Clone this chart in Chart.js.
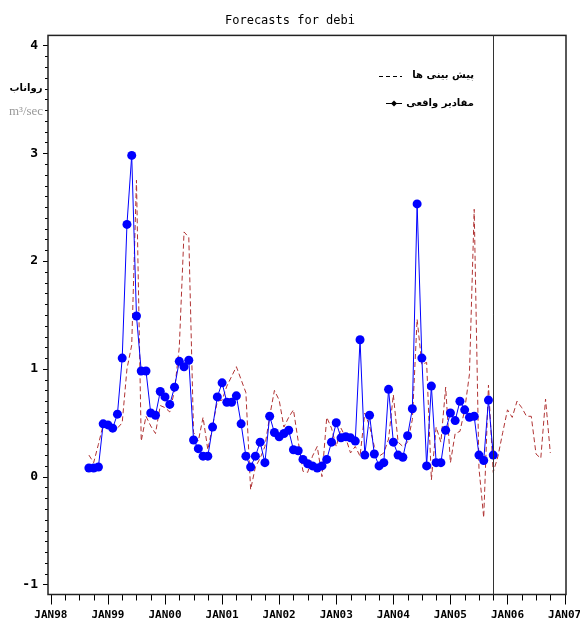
<!DOCTYPE html>
<html>
<head>
<meta charset="utf-8">
<title>Forecasts for debi</title>
<script src="https://cdn.jsdelivr.net/npm/chart.js@4.4.0/dist/chart.umd.min.js"></script>
<style>
  html, body { margin: 0; padding: 0; background: #fff; }
</style>
</head>
<body>
<canvas id="debi" width="580" height="630"></canvas>
<script>
// x values are months counted from JAN98 (0 = Jan 1998, 108 = Jan 2007)
const actualStart = 8;
const actualValues = [
  0.08, 0.08, 0.09, 0.49, 0.48, 0.45, 0.58, 1.10, 2.34, 2.98,
  1.49, 0.98, 0.98, 0.59, 0.57, 0.79, 0.74, 0.67, 0.83, 1.07,
  1.02, 1.08, 0.34, 0.26, 0.19, 0.19, 0.46, 0.74, 0.87, 0.69,
  0.69, 0.75, 0.49, 0.19, 0.09, 0.19, 0.32, 0.13, 0.56, 0.41,
  0.37, 0.40, 0.43, 0.25, 0.24, 0.16, 0.12, 0.10, 0.08, 0.10,
  0.16, 0.32, 0.50, 0.36, 0.37, 0.36, 0.33, 1.27, 0.20, 0.57,
  0.21, 0.10, 0.13, 0.81, 0.32, 0.20, 0.18, 0.38, 0.63, 2.53,
  1.10, 0.10, 0.84, 0.13, 0.13, 0.43, 0.59, 0.52, 0.70, 0.62,
  0.55, 0.56, 0.20, 0.15, 0.71, 0.20
];

const forecastStart = 8;
const forecastValues = [
  0.20, 0.13, 0.30, 0.48, 0.47, 0.44, 0.45, 0.50, 1.00, 1.22,
  2.75, 0.33, 0.56, 0.47, 0.40, 0.66, 0.64, 0.60, 0.80, 1.20,
  2.27, 2.22, 0.41, 0.33, 0.55, 0.25, 0.47, 0.70, 0.71, 0.84,
  0.93, 1.02, 0.90, 0.78, -0.12, 0.09, 0.17, 0.28, 0.56, 0.80,
  0.71, 0.46, 0.55, 0.62, 0.33, 0.05, 0.04, 0.19, 0.28, 0.00,
  0.55, 0.45, 0.28, 0.45, 0.36, 0.22, 0.28, 0.19, 0.59, 0.47,
  0.28, 0.19, 0.22, 0.35, 0.76, 0.32, 0.28, 0.32, 0.53, 1.46,
  1.04, 1.06, -0.03, 0.46, 0.32, 0.83, 0.13, 0.40, 0.42, 0.62,
  0.95, 2.48, 0.08, -0.38, 0.85, 0.04, 0.19, 0.41, 0.62, 0.55,
  0.70, 0.64, 0.56, 0.56, 0.21, 0.17, 0.72, 0.22
];

const monthNames = ['JAN'];
const forecastOrigin = 93;   // last observed month (Oct 2005)

const actualLabel = 'مقادیر واقعی';
const forecastLabel = 'پیش بینی ها';
const yTitle = 'رواناب';
const yUnit = 'm³/sec';

function toPoints(start, values) {
  return values.map((v, i) => ({ x: start + i, y: v }));
}

function monthLabel(value) {
  if (value % 12 !== 0) return '';
  const yr = (98 + value / 12) % 100;
  return monthNames[0] + String(yr).padStart(2, '0');
}

// frame, tick marks, forecast divider, legend and unit label
const decorations = {
  id: 'decorations',
  afterDraw(chart) {
    const { ctx, chartArea: a, scales: { x, y } } = chart;
    ctx.save();
    ctx.strokeStyle = '#000';

    // minor/major ticks on y (every 0.1)
    ctx.lineWidth = 1;
    ctx.beginPath();
    for (let k = -10; k <= 40; k++) {
      const py = Math.round(y.getPixelForValue(k / 10)) + 0.5;
      const len = k % 10 === 0 ? 5 : 3;
      ctx.moveTo(a.left - len, py);
      ctx.lineTo(a.left, py);
    }
    // ticks on x (quarterly, long ones at January)
    for (let m = 0; m <= 108; m += 3) {
      const px = Math.round(x.getPixelForValue(m)) + 0.5;
      const len = m % 12 === 0 ? 10 : 6;
      ctx.moveTo(px, a.bottom);
      ctx.lineTo(px, a.bottom + len);
    }
    ctx.stroke();

    // plot frame
    ctx.lineWidth = 1.5;
    ctx.strokeStyle = '#222';
    ctx.strokeRect(a.left, a.top, a.right - a.left, a.bottom - a.top);

    // divider at the start of the forecast period
    const fx = Math.round(x.getPixelForValue(forecastOrigin)) + 0.5;
    ctx.lineWidth = 1;
    ctx.strokeStyle = '#333';
    ctx.beginPath();
    ctx.moveTo(fx, a.top);
    ctx.lineTo(fx, a.bottom);
    ctx.stroke();

    // legend
    ctx.strokeStyle = '#000';
    ctx.fillStyle = '#000';
    ctx.lineWidth = 1;
    ctx.setLineDash([4, 3]);
    ctx.beginPath();
    ctx.moveTo(379, 76.5);
    ctx.lineTo(402, 76.5);
    ctx.stroke();
    ctx.setLineDash([]);
    ctx.beginPath();
    ctx.moveTo(386, 103.5);
    ctx.lineTo(402, 103.5);
    ctx.stroke();
    ctx.beginPath();
    ctx.moveTo(394, 100.5);
    ctx.lineTo(397, 103.5);
    ctx.lineTo(394, 106.5);
    ctx.lineTo(391, 103.5);
    ctx.closePath();
    ctx.fill();

    ctx.font = 'bold 10px "DejaVu Sans"';
    ctx.textAlign = 'right';
    ctx.textBaseline = 'middle';
    ctx.direction = 'rtl';
    ctx.fillText(forecastLabel, 474, 75);
    ctx.fillText(actualLabel, 474, 103);

    // axis title and unit
    ctx.textAlign = 'center';
    ctx.font = 'bold 10px "DejaVu Sans"';
    ctx.fillText(yTitle, 26, 88);
    ctx.direction = 'ltr';
    ctx.fillStyle = '#999';
    ctx.font = '13px "Liberation Serif"';
    ctx.fillText(yUnit, 26, 112);
    ctx.restore();
  }
};

const tickFont = { family: 'DejaVu Sans Mono', size: 11, weight: 'bold' };

new Chart(document.getElementById('debi'), {
  type: 'line',
  data: {
    datasets: [
      {
        label: actualLabel,
        data: toPoints(actualStart, actualValues),
        borderColor: '#0000ff',
        backgroundColor: '#0000ff',
        borderWidth: 1,
        pointRadius: 4.5,
        pointBorderWidth: 0,
        tension: 0
      },
      {
        label: forecastLabel,
        data: toPoints(forecastStart, forecastValues),
        borderColor: '#b03434',
        borderWidth: 1,
        borderDash: [5, 3],
        pointRadius: 0,
        tension: 0
      }
    ]
  },
  options: {
    responsive: false,
    animation: false,
    devicePixelRatio: 1,
    layout: { padding: 0 },
    plugins: {
      legend: { display: false },
      tooltip: { enabled: false },
      title: {
        display: true,
        text: 'Forecasts for debi',
        color: '#000',
        font: { family: 'DejaVu Sans Mono', size: 12, weight: 'normal' },
        padding: { top: 14, bottom: 7 }
      }
    },
    scales: {
      x: {
        type: 'linear',
        min: -0.6,
        max: 108.3,
        border: { display: false },
        grid: { display: false, drawTicks: false },
        ticks: {
          stepSize: 12,
          includeBounds: false,
          autoSkip: false,
          maxRotation: 0,
          padding: 14,
          color: '#000',
          font: tickFont,
          callback: monthLabel
        },
        afterFit(s) {
          s.height = 35.5;
          // fixed room on the right; the last year label may run past the edge
          s.paddingLeft = 0;
          s.paddingRight = 14;
        }
      },
      y: {
        min: -1.093,
        max: 4.093,
        border: { display: false },
        grid: { display: false, drawTicks: false },
        ticks: {
          stepSize: 1,
          includeBounds: false,
          padding: 10,
          color: '#000',
          font: { family: 'DejaVu Sans Mono', size: 13, weight: 'bold' }
        },
        afterFit(s) {
          s.width = 48;
          s.paddingTop = 0;
          s.paddingBottom = 0;
        }
      }
    }
  },
  plugins: [decorations]
});
</script>
</body>
</html>
